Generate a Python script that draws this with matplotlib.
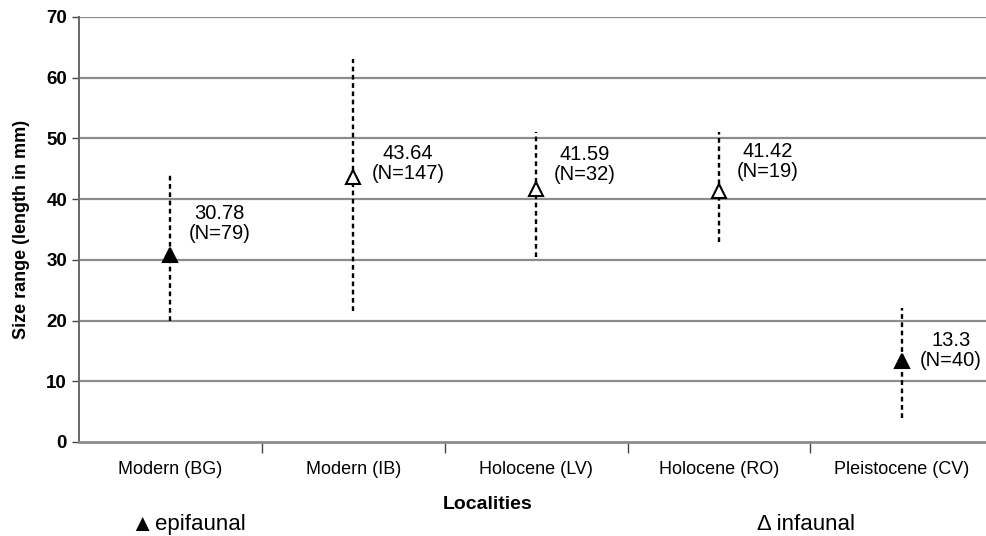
import matplotlib.pyplot as plt
import matplotlib

matplotlib.rc('font', family=['Liberation Sans', 'DejaVu Sans'])

# 資料
localities = ['Modern (BG)', 'Modern (IB)', 'Holocene (LV)', 'Holocene (RO)', 'Pleistocene (CV)']
means = [30.78, 43.64, 41.59, 41.42, 13.3]
counts = [79, 147, 32, 19, 40]
size_min = [20.0, 21.5, 30.5, 33.0, 4.0]
size_max = [44.0, 63.0, 51.0, 51.0, 22.0]
epifaunal = [True, False, False, False, True]

# 標籤偏移 (points)
label_dy = [23, 10, 18, 21, 8]

fig = plt.figure(figsize=(9.86, 5.36), dpi=100)
ax = fig.add_axes([0.080, 0.1754, 0.92, 0.7929])

grid_color = '#8c8c8c'
for i in range(len(localities)):
    ax.vlines(i, size_min[i], size_max[i], colors='black',
              linestyles=(0, (2, 1.5)), linewidth=1.7, zorder=3)
    face = 'black' if epifaunal[i] else 'white'
    ax.plot(i, means[i], marker='^', markersize=10, markerfacecolor=face,
            markeredgecolor='black', markeredgewidth=1.5, linestyle='none', zorder=4)
    ax.annotate(f"{means[i]:g}\n(N={counts[i]})", (i, means[i]),
                xytext=(13, label_dy[i]), textcoords='offset points',
                ha='left', va='center', multialignment='center',
                fontsize=14.5, linespacing=1.05, zorder=5)

ax.set_ylim(0, 70)
ax.set_xlim(-0.5, 4.46)
ax.set_yticks(range(0, 71, 10))
for y in range(10, 71, 10):
    ax.axhline(y, color=grid_color, linewidth=1.6, zorder=1)

# x 軸刻度在類別之間
ax.set_xticks([i + 0.5 for i in range(len(localities) - 1)])
ax.set_xticklabels([])
ax.set_xticks(range(len(localities)), minor=True)
ax.set_xticklabels(localities, minor=True, fontsize=13)
ax.tick_params(axis='x', which='minor', length=0, pad=14)
ax.tick_params(axis='x', which='major', length=8, width=1, color='#444444')
ax.tick_params(axis='y', length=5, width=1, color='#444444', labelsize=13.5)
for lab in ax.get_yticklabels():
    lab.set_fontweight('bold')

for s in ['top', 'right']:
    ax.spines[s].set_visible(False)
ax.spines['left'].set_color('#666666')
ax.spines['left'].set_linewidth(1.4)
ax.spines['bottom'].set_color(grid_color)
ax.spines['bottom'].set_linewidth(2)

ax.set_ylabel('Size range (length in mm)', fontsize=13, fontweight='bold', labelpad=12)
fig.text(0.495, 0.058, 'Localities', ha='center', va='center', fontsize=14, fontweight='bold')
fig.text(0.132, 0.021, '\u25b2', ha='left', va='center', fontsize=17)
fig.text(0.157, 0.021, 'epifaunal', ha='left', va='center', fontsize=16)
fig.text(0.768, 0.021, '\u0394 infaunal', ha='left', va='center', fontsize=16)

plt.savefig('out.png', dpi=100)
